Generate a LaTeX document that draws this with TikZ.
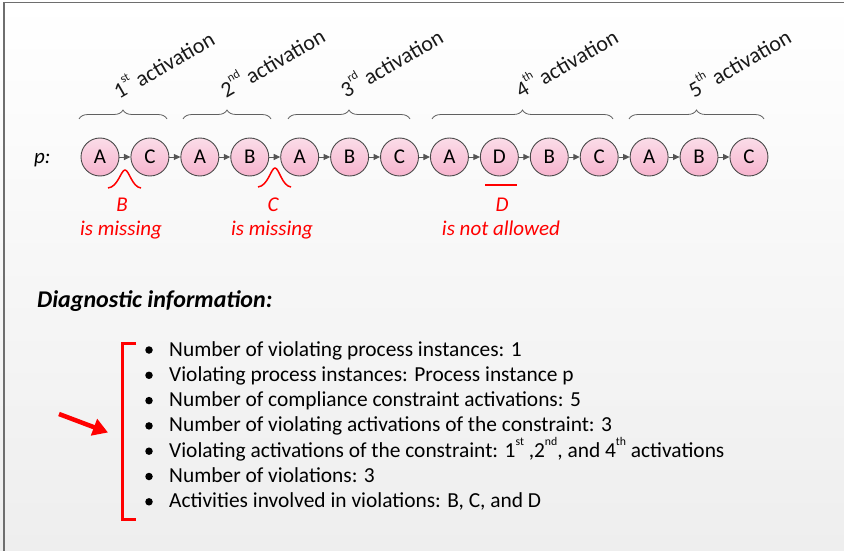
\documentclass[tikz,border=0pt]{standalone}
\usepackage{fontspec}
\setmainfont{Carlito}
\usetikzlibrary{arrows.meta,decorations.pathreplacing,calc}
\definecolor{pinktop}{HTML}{FBDCE8}
\definecolor{pinkbot}{HTML}{F6B4CE}
\definecolor{rimgray}{HTML}{4A4A4A}
\definecolor{flowgray}{HTML}{555555}
\definecolor{alertred}{HTML}{FF0000}
\definecolor{framegray}{HTML}{6E6E6E}
\definecolor{bracegray}{HTML}{606060}
\definecolor{bgbottom}{HTML}{EEEEEE}
% small raised ordinal suffix
\newcommand{\ordsup}[1]{\raisebox{0.55em}{\fontsize{0.55em}{0.6em}\selectfont #1}}
\begin{document}
\begin{tikzpicture}[x=1pt,y=-1pt,
  act/.style={circle,draw=rimgray,line width=0.9pt,top color=pinktop,bottom color=pinkbot,
    minimum size=38pt,inner sep=0pt,font=\fontsize{21}{24}\selectfont},
  flow/.style={draw=flowgray,line width=1pt,-{Triangle[length=6.5pt,width=6pt]}},
  actbrace/.style={draw=bracegray,line width=0.8pt,decorate,decoration={brace,amplitude=9pt}},
  actlabel/.style={anchor=base west,rotate=30,inner sep=0pt,text=black!90,
    font=\fontsize{22}{26}\selectfont},
  redtxt/.style={anchor=base,inner sep=0pt,text=alertred,font=\fontsize{21}{24}\selectfont\itshape},
  redmark/.style={draw=alertred,line width=1.5pt},
  itemtxt/.style={anchor=base west,inner sep=0pt,font=\fontsize{21.4}{25}\selectfont},
  bulletdot/.style={circle,fill=black,inner sep=0pt,minimum size=7.5pt},
  alertarrow/.style={draw=alertred,line width=4.5pt,-{Triangle[length=15pt,width=17pt]}}
]
\useasboundingbox (0,0) rectangle (844,551);
% backdrop and frame edges
\shade[top color=white,bottom color=bgbottom] (0,0) rectangle (844,551);
\draw[framegray,line width=1.5pt] (4,551) -- (4,2.5) -- (844,2.5);

% the trace p
\node[anchor=base west,inner sep=0pt,font=\fontsize{21}{24}\selectfont\itshape] (plabel) at (34,163) {p:};
\foreach \i/\t in {1/A,2/C,3/A,4/B,5/A,6/B,7/C,8/A,9/D,10/B,11/C,12/A,13/B,14/C}{
  \node[act] (n\i) at ({100+49.92*(\i-1)},157) {\t};
}
\foreach \i [evaluate=\i as \j using int(\i+1)] in {1,...,13}{
  \draw[flow] (n\i) -- (n\j);
}

% activation braces and their labels
\draw[actbrace] (79,119) -- (167,119);
\draw[actbrace] (183,119) -- (271,119);
\draw[actbrace] (288,119) -- (410,119);
\draw[actbrace] (432,119) -- (613,119);
\draw[actbrace] (629,119) -- (764,119);
\node[actlabel] (l1) at (119,100) {1\ordsup{st} activation};
\node[actlabel] (l2) at (226,99) {2\ordsup{nd} activation};
\node[actlabel] (l3) at (346,99) {3\ordsup{rd} activation};
\node[actlabel] (l4) at (521,99) {4\ordsup{th} activation};
\node[actlabel] (l5) at (694,99) {5\ordsup{th} activation};

% violation marks
\draw[redmark] (108,188) .. controls (118,187) and (121,170) .. (125,170)
  .. controls (129,170) and (132,187) .. (141,188);
\draw[redmark] (258,187) .. controls (268,186) and (271,168) .. (275,168)
  .. controls (279,168) and (282,186) .. (291,187);
\draw[redmark] (485,185) -- (517,185);
\node[redtxt] (m1) at (122,211) {B};
\node[redtxt] (m1b) at (121,235) {is missing};
\node[redtxt] (m2) at (273,211) {C};
\node[redtxt] (m2b) at (272,235) {is missing};
\node[redtxt] (m3) at (502,211) {D};
\node[redtxt] (m3b) at (501,235) {is not allowed};

% diagnostic information
\node[anchor=base west,inner sep=0pt,font=\fontsize{24}{28}\selectfont\bfseries\itshape] (diag) at (37,307) {Diagnostic information:};
\draw[alertred,line width=3pt] (136,343) -- (122.5,343) -- (122.5,519) -- (136,519);
\coordinate (arrtail) at (59,414);
\coordinate (arrhead) at (108,432.5);
\draw[alertarrow] (arrtail) -- (arrhead);

\node[bulletdot] (b1) at (149,350) {};
\node[bulletdot] (b2) at (149,375.3) {};
\node[bulletdot] (b3) at (149,400.6) {};
\node[bulletdot] (b4) at (149,425.9) {};
\node[bulletdot] (b5) at (149,451.2) {};
\node[bulletdot] (b6) at (149,476.5) {};
\node[bulletdot] (b7) at (149,501.8) {};
\node[itemtxt] (i1) at (169,356) {Number of violating process instances: 1};
\node[itemtxt] (i2) at (169,381.3) {Violating process instances: Process instance p};
\node[itemtxt] (i3) at (169,406.6) {Number of compliance constraint activations: 5};
\node[itemtxt] (i4) at (169,431.9) {Number of violating activations of the constraint: 3};
\node[itemtxt] (i5) at (169,457.2) {Violating activations of the constraint: 1\ordsup{st} ,2\ordsup{nd}, and 4\ordsup{th} activations};
\node[itemtxt] (i6) at (169,482.5) {Number of violations: 3};
\node[itemtxt] (i7) at (169,507.8) {Activities involved in violations: B, C, and D};
\end{tikzpicture}
\end{document}
